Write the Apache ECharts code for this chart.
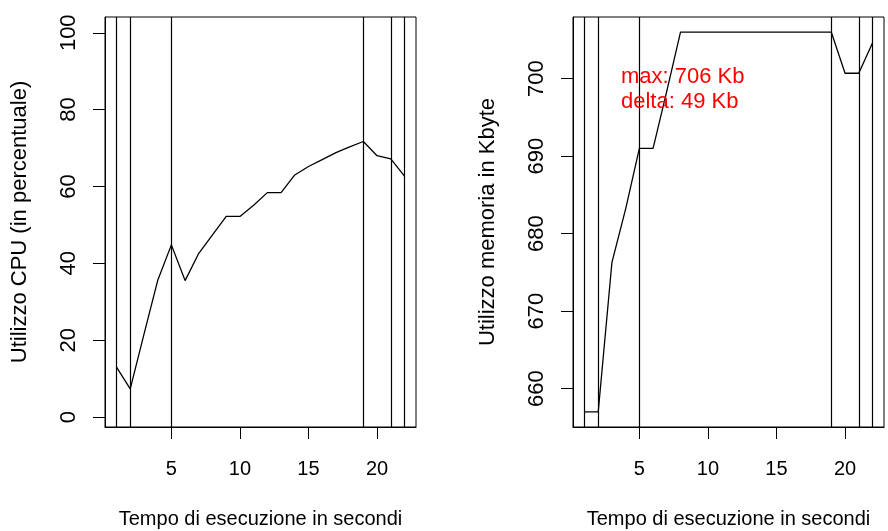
<!DOCTYPE html>
<html>
<head>
<meta charset="utf-8">
<script src="https://cdn.jsdelivr.net/npm/echarts@6/dist/echarts.min.js"></script>
<style>
  html, body { margin: 0; padding: 0; background: #fff; }
  #chart { width: 888px; height: 531px; }
</style>
</head>
<body>
<div id="chart"></div>
<script>
// Execution time (seconds)
const secs = [1, 2, 3, 4, 5, 6, 7, 8, 9, 10, 11, 12, 13, 14, 15, 16, 17, 18, 19, 20, 21, 22];
// CPU usage (%)
const cpu = [13.0, 7.3, 21.5, 35.5, 44.8, 35.5, 42.6, 47.4, 52.2, 52.2, 55.1, 58.4, 58.4, 63.0, 65.2, 67.0, 68.8, 70.3, 71.7, 68.0, 67.2, 62.7];
// Memory usage (Kbyte)
const mem = [657, 657, 676.3, 683.2, 691, 691, 698.4, 706, 706, 706, 706, 706, 706, 706, 706, 706, 706, 706, 706, 700.7, 700.7, 704.6];
// Seconds marked by vertical reference lines
const markerSecs = [1, 2, 5, 19, 21, 22];
// Tick labels
const xTicks = [5, 10, 15, 20];
const cpuTicks = [0, 20, 40, 60, 80, 100];
const memTicks = [660, 670, 680, 690, 700];

const FONT = 'Liberation Sans';
const memMax = Math.max(...mem);
const memDelta = memMax - Math.min(...mem);

function xAxisFor(idx) {
  return {
    type: 'value', gridIndex: idx, min: 0.16, max: 22.84,
    axisLine: { show: true, onZero: false, lineStyle: { color: '#000', width: 1 } },
    splitLine: { show: false },
    axisTick: { show: true, length: 12, customValues: xTicks, lineStyle: { color: '#000', width: 1 } },
    axisLabel: { customValues: xTicks, margin: 32, fontSize: 20, color: '#000', fontFamily: FONT },
    name: 'Tempo di esecuzione in secondi', nameLocation: 'middle', nameGap: 82,
    nameTextStyle: { fontSize: 20, color: '#000', fontFamily: FONT }
  };
}

// vertical text on the y axes reads slightly taller
function yAxisFor(idx, min, max, ticks, title) {
  return {
    type: 'value', gridIndex: idx, min: min, max: max,
    axisLine: { show: true, onZero: false, lineStyle: { color: '#000', width: 1 } },
    splitLine: { show: false },
    axisTick: { show: true, length: 12, customValues: ticks, lineStyle: { color: '#000', width: 1 } },
    axisLabel: { customValues: ticks, rotate: 90, margin: 25, fontSize: 22, color: '#000', fontFamily: FONT },
    name: title, nameLocation: 'middle', nameGap: 74,
    nameTextStyle: { fontSize: 22, color: '#000', fontFamily: FONT }
  };
}

function markers() {
  return {
    silent: true, symbol: 'none', animation: false,
    label: { show: false },
    lineStyle: { color: '#000', width: 1.2, type: 'solid' },
    data: markerSecs.map(s => ({ xAxis: s }))
  };
}

const gridBase = {
  top: 17, width: 311, height: 410, show: true,
  borderColor: '#000', borderWidth: 1, backgroundColor: 'transparent',
  containLabel: false, outerBoundsMode: 'none'
};

const chart = echarts.init(document.getElementById('chart'), null, { renderer: 'canvas' });
chart.setOption({
  animation: false,
  backgroundColor: '#fff',
  textStyle: { fontFamily: FONT },
  grid: [
    Object.assign({ left: 105 }, gridBase),
    Object.assign({ left: 573 }, gridBase)
  ],
  xAxis: [xAxisFor(0), xAxisFor(1)],
  yAxis: [
    yAxisFor(0, -2.6, 104.1, cpuTicks, 'Utilizzo CPU (in percentuale)'),
    yAxisFor(1, 655.04, 707.96, memTicks, 'Utilizzo memoria in Kbyte')
  ],
  series: [
    {
      type: 'line', xAxisIndex: 0, yAxisIndex: 0,
      data: secs.map((s, i) => [s, cpu[i]]),
      symbol: 'none', lineStyle: { color: '#000', width: 1.3 },
      markLine: markers()
    },
    {
      type: 'line', xAxisIndex: 1, yAxisIndex: 1,
      data: secs.map((s, i) => [s, mem[i]]),
      symbol: 'none', lineStyle: { color: '#000', width: 1.3 },
      markLine: markers()
    }
  ],
  graphic: [
    {
      type: 'text', left: 621, top: 64, z: 100,
      style: {
        text: 'max: ' + Math.round(memMax) + ' Kb\ndelta: ' + Math.round(memDelta) + ' Kb',
        fill: '#ff0000', font: '22px "Liberation Sans"', lineHeight: 25
      }
    }
  ]
});
</script>
</body>
</html>
